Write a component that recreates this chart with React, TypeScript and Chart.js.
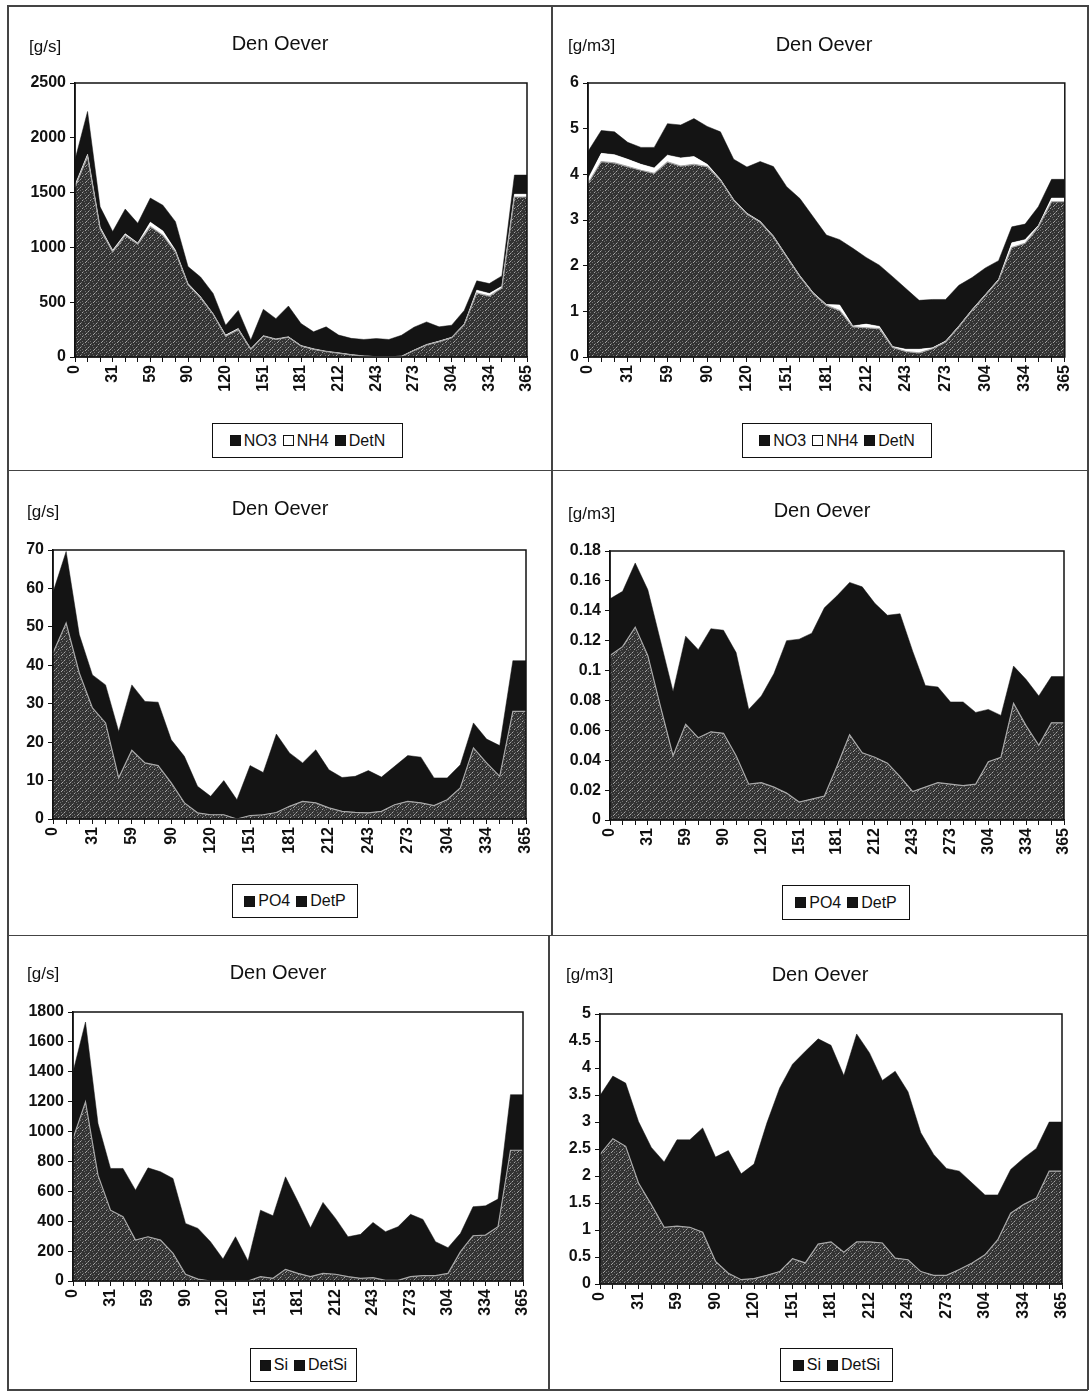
import React, { useEffect, useRef } from 'react';
import { Chart, registerables } from 'chart.js';

Chart.register(...registerables);

// x axis: 37 equally spaced categories (about three per month), labelled every third one
const tickLabels = ['0', '31', '59', '90', '120', '151', '181', '212', '243', '273', '304', '334', '365'];
const decades = Array.from({ length: 37 }, (_, i) => String(i));

// Nitrogen load [g/s]
const no3Flux = [1550, 1830, 1170, 960, 1110, 1030, 1190, 1110, 960, 660, 540, 390, 190, 250, 70, 190, 160, 180, 100, 70, 50, 35, 20, 8, 2, 1, 5, 60, 110, 140, 175, 295, 585, 555, 630, 1460, 1460];
const nh4Flux = [20, 20, 15, 15, 15, 10, 40, 40, 15, 10, 10, 5, 10, 10, 5, 5, 5, 5, 5, 5, 3, 3, 2, 2, 1, 1, 2, 3, 5, 5, 5, 5, 25, 25, 15, 25, 25];
const detNFlux = [230, 390, 185, 170, 225, 180, 220, 235, 260, 155, 180, 185, 90, 165, 80, 240, 185, 280, 200, 155, 222, 162, 148, 150, 165, 158, 191, 209, 205, 130, 110, 125, 85, 90, 95, 175, 175];

// Nitrogen concentration [g/m3]
const no3Conc = [3.8, 4.28, 4.25, 4.17, 4.09, 4.02, 4.27, 4.18, 4.22, 4.17, 3.87, 3.43, 3.13, 2.95, 2.63, 2.19, 1.76, 1.39, 1.13, 1.02, 0.66, 0.64, 0.62, 0.21, 0.12, 0.09, 0.18, 0.33, 0.66, 1.02, 1.35, 1.68, 2.4, 2.49, 2.85, 3.4, 3.4];
const nh4Conc = [0.1, 0.18, 0.18, 0.16, 0.13, 0.12, 0.15, 0.18, 0.17, 0.05, 0.02, 0.02, 0.02, 0.02, 0.02, 0.02, 0.02, 0.02, 0.02, 0.12, 0.02, 0.08, 0.05, 0.02, 0.05, 0.08, 0.02, 0.02, 0.02, 0.02, 0.02, 0.02, 0.1, 0.08, 0.03, 0.08, 0.08];
const detNConc = [0.6, 0.5, 0.5, 0.37, 0.37, 0.45, 0.69, 0.72, 0.83, 0.83, 1.04, 0.88, 1.01, 1.31, 1.52, 1.52, 1.69, 1.66, 1.52, 1.43, 1.7, 1.46, 1.34, 1.53, 1.33, 1.07, 1.06, 0.91, 0.89, 0.7, 0.58, 0.41, 0.35, 0.34, 0.41, 0.41, 0.41];

// Phosphorus load [g/s]
const po4Flux = [43.2, 51, 38, 28.9, 25, 10.7, 17.9, 14.6, 13.9, 9.4, 4.2, 1.6, 1.1, 1.1, 0, 0.9, 1.1, 1.7, 3.3, 4.6, 4.2, 2.9, 2.0, 1.7, 1.6, 2.0, 3.7, 4.6, 4.2, 3.5, 5.0, 8.1, 18.5, 14.6, 11.1, 28, 28];
const detPFlux = [15.8, 18.6, 10, 8.6, 9.9, 12.1, 17, 16, 16.5, 11.2, 12.1, 6.9, 4.8, 8.9, 5, 13, 11, 20.4, 13.9, 10, 13.8, 9.9, 8.8, 9.4, 11, 8.9, 10, 11.9, 11.9, 7.2, 5.7, 6, 6.5, 6.2, 8, 13.2, 13.2];

// Phosphorus concentration [g/m3]
const po4Conc = [0.11, 0.116, 0.129, 0.11, 0.076, 0.043, 0.064, 0.055, 0.059, 0.058, 0.043, 0.024, 0.025, 0.022, 0.018, 0.012, 0.014, 0.016, 0.036, 0.057, 0.045, 0.042, 0.038, 0.029, 0.019, 0.022, 0.025, 0.024, 0.023, 0.024, 0.039, 0.042, 0.078, 0.063, 0.05, 0.065, 0.065];
const detPConc = [0.038, 0.037, 0.043, 0.044, 0.044, 0.043, 0.059, 0.059, 0.069, 0.069, 0.069, 0.05, 0.058, 0.076, 0.102, 0.109, 0.111, 0.126, 0.114, 0.102, 0.111, 0.103, 0.099, 0.109, 0.094, 0.068, 0.064, 0.055, 0.056, 0.048, 0.035, 0.028, 0.025, 0.031, 0.033, 0.031, 0.031];

// Silicon load [g/s]
const siFlux = [953, 1198, 708, 474, 430, 274, 296, 274, 185, 45, 13, 0, 0, 0, 0, 29, 18, 78, 51, 29, 51, 45, 29, 18, 22, 4, 4, 29, 36, 36, 51, 196, 303, 307, 363, 875, 875];
const detSiFlux = [446, 535, 346, 279, 323, 334, 461, 457, 501, 340, 339, 263, 147, 296, 134, 445, 419, 619, 479, 327, 475, 374, 267, 294, 370, 326, 359, 417, 376, 227, 172, 123, 194, 196, 185, 372, 372];

// Silicon concentration [g/m3]
const siConc = [2.4, 2.69, 2.55, 1.87, 1.47, 1.05, 1.07, 1.05, 0.96, 0.42, 0.2, 0.08, 0.1, 0.16, 0.23, 0.47, 0.39, 0.74, 0.78, 0.59, 0.78, 0.78, 0.76, 0.48, 0.45, 0.23, 0.16, 0.16, 0.27, 0.39, 0.54, 0.82, 1.31, 1.47, 1.59, 2.09, 2.09];
const detSiConc = [1.09, 1.16, 1.17, 1.14, 1.06, 1.21, 1.6, 1.62, 1.93, 1.93, 2.27, 1.96, 2.12, 2.82, 3.4, 3.6, 3.92, 3.8, 3.64, 3.27, 3.85, 3.5, 3.01, 3.46, 3.11, 2.57, 2.24, 1.98, 1.82, 1.48, 1.11, 0.83, 0.81, 0.86, 0.92, 0.91, 0.91];

const FONT = "'Liberation Sans', Arial, Helvetica, sans-serif";
const INK = '#111111';

type Kind = 'stipple' | 'white' | 'dark';
type Series = { label: string; data: number[]; kind: Kind };
type PanelCfg = {
  box: { x: number; y: number; w: number; h: number };
  plot: { l: number; r: number; t: number; b: number };
  yMax: number;
  yStep: number;
  unit: string;
  unitPos: { x: number; y: number };
  titlePos: { x: number; y: number };
  legend: { x: number; y: number; w: number; h: number };
  series: Series[];
};

const panels: PanelCfg[] = [
  {
    box: { x: 8, y: 6, w: 542, h: 462 },
    plot: { l: 75, r: 527, t: 83, b: 357 },
    yMax: 2500, yStep: 500, unit: '[g/s]',
    unitPos: { x: 29, y: 46 }, titlePos: { x: 280, y: 43 },
    legend: { x: 212, y: 423, w: 191, h: 35 },
    series: [
      { label: 'NO3', data: no3Flux, kind: 'stipple' },
      { label: 'NH4', data: nh4Flux, kind: 'white' },
      { label: 'DetN', data: detNFlux, kind: 'dark' },
    ],
  },
  {
    box: { x: 552, y: 6, w: 535, h: 462 },
    plot: { l: 588, r: 1065, t: 83, b: 357 },
    yMax: 6, yStep: 1, unit: '[g/m3]',
    unitPos: { x: 568, y: 45 }, titlePos: { x: 824, y: 44 },
    legend: { x: 742, y: 423, w: 190, h: 35 },
    series: [
      { label: 'NO3', data: no3Conc, kind: 'stipple' },
      { label: 'NH4', data: nh4Conc, kind: 'white' },
      { label: 'DetN', data: detNConc, kind: 'dark' },
    ],
  },
  {
    box: { x: 8, y: 471, w: 542, h: 463 },
    plot: { l: 53, r: 526, t: 550, b: 819 },
    yMax: 70, yStep: 10, unit: '[g/s]',
    unitPos: { x: 27, y: 511 }, titlePos: { x: 280, y: 508 },
    legend: { x: 232, y: 884, w: 126, h: 34 },
    series: [
      { label: 'PO4', data: po4Flux, kind: 'stipple' },
      { label: 'DetP', data: detPFlux, kind: 'dark' },
    ],
  },
  {
    box: { x: 552, y: 471, w: 535, h: 463 },
    plot: { l: 610, r: 1064, t: 551, b: 820 },
    yMax: 0.18, yStep: 0.02, unit: '[g/m3]',
    unitPos: { x: 568, y: 513 }, titlePos: { x: 822, y: 510 },
    legend: { x: 782, y: 885, w: 128, h: 35 },
    series: [
      { label: 'PO4', data: po4Conc, kind: 'stipple' },
      { label: 'DetP', data: detPConc, kind: 'dark' },
    ],
  },
  {
    box: { x: 8, y: 936, w: 540, h: 453 },
    plot: { l: 73, r: 523, t: 1012, b: 1281 },
    yMax: 1800, yStep: 200, unit: '[g/s]',
    unitPos: { x: 27, y: 973 }, titlePos: { x: 278, y: 972 },
    legend: { x: 250, y: 1348, w: 107, h: 34 },
    series: [
      { label: 'Si', data: siFlux, kind: 'stipple' },
      { label: 'DetSi', data: detSiFlux, kind: 'dark' },
    ],
  },
  {
    box: { x: 550, y: 936, w: 537, h: 453 },
    plot: { l: 600, r: 1062, t: 1014, b: 1284 },
    yMax: 5, yStep: 0.5, unit: '[g/m3]',
    unitPos: { x: 566, y: 974 }, titlePos: { x: 820, y: 974 },
    legend: { x: 780, y: 1348, w: 113, h: 34 },
    series: [
      { label: 'Si', data: siConc, kind: 'stipple' },
      { label: 'DetSi', data: detSiConc, kind: 'dark' },
    ],
  },
];

function makeStipple(ctx: CanvasRenderingContext2D): CanvasPattern | string {
  const n = 8;
  const c = document.createElement('canvas');
  c.width = n;
  c.height = n;
  const g = c.getContext('2d');
  if (!g) return '#4a4a4a';
  g.fillStyle = '#333333';
  g.fillRect(0, 0, n, n);
  const mid: [number, number][] = [[0, 0], [3, 1], [6, 2], [1, 4], [5, 5], [2, 7], [7, 6], [4, 3]];
  const bright: [number, number][] = [[2, 2], [6, 7], [0, 5], [5, 0]];
  g.fillStyle = '#6e6e6e';
  mid.forEach(([x, y]) => g.fillRect(x, y, 1, 1));
  g.fillStyle = '#a6a6a6';
  bright.forEach(([x, y]) => g.fillRect(x, y, 1, 1));
  return ctx.createPattern(c, 'repeat') || '#4a4a4a';
}

const framePlugin = {
  id: 'plotFrame',
  afterDatasetsDraw(chart: any) {
    const { ctx, chartArea } = chart;
    ctx.save();
    ctx.strokeStyle = INK;
    ctx.lineWidth = 1.5;
    ctx.strokeRect(chartArea.left, chartArea.top, chartArea.right - chartArea.left, chartArea.bottom - chartArea.top);
    ctx.restore();
  },
};

function fmt(v: number) {
  return String(parseFloat(Number(v).toFixed(3)));
}

function Panel({ cfg }: { cfg: PanelCfg }) {
  const ref = useRef<HTMLCanvasElement>(null);
  useEffect(() => {
    const canvas = ref.current;
    if (!canvas) return;
    const ctx = canvas.getContext('2d');
    if (!ctx) return;
    const pattern = makeStipple(ctx);
    const L = cfg.plot.l - cfg.box.x;
    const R = cfg.plot.r - cfg.box.x;
    const T = cfg.plot.t - cfg.box.y;
    const B = cfg.plot.b - cfg.box.y;
    const xh = 60;
    const tickFont = { family: FONT, size: 16, weight: 'bold' as const };
    const chart = new Chart(ctx, {
      type: 'line',
      data: {
        labels: decades,
        datasets: cfg.series.map((s, i) => ({
          label: s.label,
          data: s.data,
          fill: i === 0 ? 'origin' : '-1',
          backgroundColor: s.kind === 'stipple' ? pattern : s.kind === 'white' ? '#ffffff' : '#141414',
          borderColor: s.kind === 'stipple' ? '#a8a8a8' : s.kind === 'white' ? '#ffffff' : '#141414',
          borderWidth: s.kind === 'stipple' ? 1.2 : 0.5,
          pointRadius: 0,
          pointHoverRadius: 0,
          tension: 0,
        })),
      },
      options: {
        responsive: false,
        animation: false,
        devicePixelRatio: 1,
        layout: { padding: { left: 0, top: T, right: cfg.box.w - R, bottom: cfg.box.h - B - xh } },
        plugins: {
          legend: { display: false },
          tooltip: { enabled: false },
          title: { display: false },
        },
        scales: {
          x: {
            type: 'category',
            offset: false,
            grid: { display: true, drawOnChartArea: false, drawTicks: true, tickLength: 5, color: INK, lineWidth: 1 },
            border: { display: true, color: INK, width: 1.5 },
            ticks: {
              autoSkip: false,
              minRotation: 90,
              maxRotation: 90,
              padding: 3,
              color: INK,
              font: tickFont,
              callback: (_v: any, i: number) => (i % 3 === 0 ? tickLabels[i / 3] : ''),
            },
            afterFit: (s: any) => { s.height = xh; },
          },
          y: {
            stacked: true,
            min: 0,
            max: cfg.yMax,
            grid: { display: true, drawOnChartArea: false, drawTicks: true, tickLength: 5, color: INK, lineWidth: 1 },
            border: { display: true, color: INK, width: 1.5 },
            ticks: {
              stepSize: cfg.yStep,
              padding: 4,
              color: INK,
              font: tickFont,
              callback: (v: any) => fmt(v),
            },
            afterFit: (s: any) => { s.width = L; },
          },
        },
      } as any,
      plugins: [framePlugin],
    });
    return () => chart.destroy();
  }, [cfg]);

  const textBase: React.CSSProperties = {
    position: 'absolute',
    fontFamily: FONT,
    color: INK,
    lineHeight: 1,
    whiteSpace: 'nowrap',
  };

  return (
    <>
      <canvas
        ref={ref}
        width={cfg.box.w}
        height={cfg.box.h}
        style={{ position: 'absolute', left: cfg.box.x, top: cfg.box.y, width: cfg.box.w, height: cfg.box.h }}
      />
      <div style={{ ...textBase, left: cfg.unitPos.x, top: cfg.unitPos.y, transform: 'translateY(-50%)', fontSize: 17 }}>
        {cfg.unit}
      </div>
      <div style={{ ...textBase, left: cfg.titlePos.x, top: cfg.titlePos.y, transform: 'translate(-50%,-50%)', fontSize: 20 }}>
        Den Oever
      </div>
      <div
        style={{
          position: 'absolute',
          left: cfg.legend.x,
          top: cfg.legend.y,
          width: cfg.legend.w,
          height: cfg.legend.h,
          boxSizing: 'border-box',
          border: `1.5px solid ${INK}`,
          background: '#fff',
          display: 'flex',
          alignItems: 'center',
          justifyContent: 'center',
          gap: 6,
          fontFamily: FONT,
          fontSize: 16,
          color: INK,
        }}
      >
        {cfg.series.map((s) => (
          <span key={s.label} style={{ display: 'flex', alignItems: 'center', gap: 3 }}>
            <span
              style={{
                display: 'inline-block',
                width: 11,
                height: 11,
                boxSizing: 'border-box',
                background: s.kind === 'white' ? '#fff' : '#141414',
                border: `1px solid ${INK}`,
              }}
            />
            <span>{s.label}</span>
          </span>
        ))}
      </div>
    </>
  );
}

const lines: { x: number; y: number; w: number; h: number }[] = [
  { x: 7, y: 5, w: 1081, h: 1.5 },
  { x: 7, y: 1389, w: 1081, h: 1.5 },
  { x: 7, y: 5, w: 1.5, h: 1385 },
  { x: 1087, y: 5, w: 1.5, h: 1385 },
  { x: 551, y: 5, w: 1.5, h: 930 },
  { x: 548, y: 935, w: 1.5, h: 455 },
  { x: 7, y: 469.5, w: 1081, h: 1.5 },
  { x: 7, y: 934.5, w: 1081, h: 1.5 },
];

export default function App() {
  return (
    <div style={{ position: 'absolute', left: 0, top: 0, width: 1090, height: 1393, background: '#fff', overflow: 'hidden' }}>
      {lines.map((l, i) => (
        <div key={i} style={{ position: 'absolute', left: l.x, top: l.y, width: l.w, height: l.h, background: '#444' }} />
      ))}
      {panels.map((p, i) => (
        <Panel key={i} cfg={p} />
      ))}
    </div>
  );
}
